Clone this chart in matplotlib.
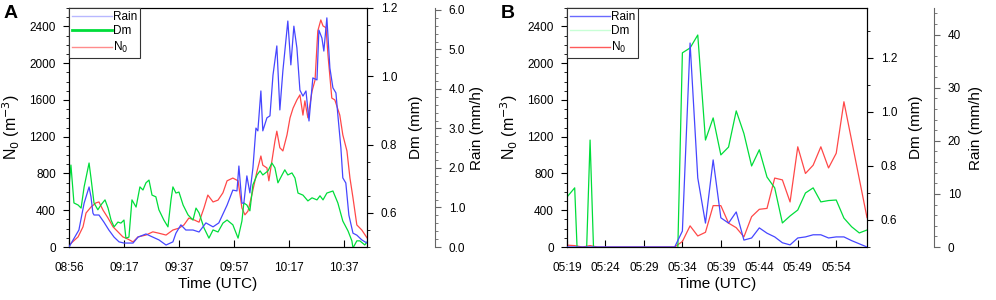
import matplotlib
matplotlib.use("Agg")
import matplotlib.pyplot as plt
from matplotlib.lines import Line2D
from matplotlib.ticker import MultipleLocator

plt.rcParams['font.family'] = ['Liberation Sans', 'DejaVu Sans']

# ---- Panel A: minutes after 08:56 ----
a_ticks = [0, 20, 40, 60, 80, 100]
a_ticklabels = ['08:56', '09:17', '09:37', '09:57', '10:17', '10:37']

rain_a_t = [0, 3.6, 5.5, 7.3, 8.0, 8.7, 9.1, 10.9, 12.7, 14.5, 16.4, 18.2, 20.0, 23.3, 25.1,
            28.0, 30.5, 32.7, 35.3, 37.8, 38.9, 40.7, 42.5, 45.1, 47.3, 49.8, 52.4, 54.5, 57.5,
            59.6, 61.1, 61.8, 62.9, 63.6, 64.7, 65.8, 66.9, 68.0, 68.7, 69.8, 70.5, 72.0, 73.1,
            74.2, 75.6, 76.7, 77.8, 79.6, 80.7, 81.8, 82.9, 84.0, 85.1, 86.2, 87.3, 88.7, 90.2,
            90.9, 92.0, 92.7, 93.8, 94.9, 96.0, 97.1, 97.8, 98.9, 99.6, 100.7, 101.8, 103.3,
            104.7, 106.5, 108.4]
rain_a = [0.0, 0.43, 1.11, 1.52, 1.27, 0.86, 0.81, 0.81, 0.63, 0.43, 0.25, 0.13, 0.10, 0.10, 0.25,
          0.33, 0.25, 0.18, 0.05, 0.13, 0.35, 0.56, 0.43, 0.43, 0.38, 0.61, 0.51, 0.61, 1.06,
          1.44, 1.42, 2.05, 1.11, 1.11, 1.80, 1.37, 2.00, 3.01, 2.94, 3.95, 2.94, 3.27, 3.32,
          4.35, 5.09, 3.47, 4.46, 5.72, 4.61, 5.59, 5.04, 3.97, 3.82, 3.95, 3.19, 4.28, 4.23,
          5.49, 5.29, 4.96, 5.80, 4.53, 4.03, 3.90, 3.34, 2.51, 1.75, 1.62, 0.81, 0.35,
          0.30, 0.18, 0.10]

n0_a_t = [0, 3.3, 5.1, 6.2, 8.0, 9.8, 10.9, 12.4, 14.2, 16.0, 17.8, 19.6, 21.5, 23.3, 25.1, 28.0,
          30.5, 32.7, 35.3, 37.8, 40.0, 41.8, 43.6, 45.5, 47.3, 49.1, 50.5, 52.4, 54.2, 56.0,
          57.5, 59.6, 61.5, 62.9, 64.0, 65.1, 66.5, 68.4, 69.8, 70.5, 72.0, 72.7, 73.8, 74.9,
          75.6, 76.7, 77.8, 79.3, 80.4, 81.5, 82.9, 84.0, 85.1, 85.8, 86.9, 88.4, 89.5, 90.5,
          91.6, 92.4, 93.5, 94.2, 95.6, 96.7, 98.5, 99.6, 101.1, 102.2, 103.3, 104.7, 106.5, 108.4]
n0_a = [20, 110, 220, 370, 435, 480, 490, 400, 315, 220, 165, 110, 85, 55, 110, 130,
        165, 150, 130, 185, 205, 240, 315, 295, 270, 425, 565, 490, 510, 590,
        720, 750, 720, 425, 350, 390, 565, 825, 990, 890, 860, 720, 935, 1150,
        1260, 1080, 1045, 1220, 1405, 1510, 1600, 1655, 1435, 1590, 1405, 1695, 1815, 2350,
        2470, 2405, 2385, 2090, 1620, 1600, 1435, 1220, 1045, 750, 535, 240, 185, 100]

dm_a_t = [0.0, 0.7, 1.8, 3.3, 4.4, 5.5, 7.3, 8.0, 9.1, 10.5, 11.6, 13.1, 14.2, 15.3, 16.4, 17.8,
          18.9, 20.0, 20.7, 21.8, 22.9, 24.4, 25.8, 26.9, 28.0, 29.1, 30.2, 31.6, 32.7, 34.5,
          36.0, 37.1, 37.8, 38.9, 40.0, 41.5, 43.3, 45.1, 46.2, 47.3, 49.1, 50.9, 52.4, 54.2,
          56.0, 57.5, 59.6, 61.5, 62.9, 63.6, 64.7, 65.8, 66.9, 68.4, 69.5, 70.5, 72.4, 73.8,
          74.9, 76.0, 77.5, 78.5, 79.6, 81.1, 82.2, 83.3, 85.1, 86.9, 88.4, 90.2, 91.3, 92.4,
          93.8, 96.0, 97.8, 99.6, 101.5, 102.9, 103.3, 104.7, 105.8, 107.6, 108.7]
dm_a = [0.676, 0.740, 0.629, 0.623, 0.614, 0.676, 0.746, 0.702, 0.629, 0.609, 0.623, 0.638, 0.614,
        0.579, 0.559, 0.573, 0.570, 0.579, 0.526, 0.529, 0.638, 0.617, 0.676, 0.667, 0.688, 0.696,
        0.652, 0.647, 0.609, 0.579, 0.559, 0.638, 0.676, 0.658, 0.661, 0.623, 0.594, 0.579, 0.614,
        0.600, 0.556, 0.526, 0.550, 0.544, 0.570, 0.579, 0.565, 0.526, 0.576, 0.629, 0.623, 0.606,
        0.682, 0.711, 0.723, 0.711, 0.723, 0.746, 0.732, 0.688, 0.711, 0.726, 0.711, 0.717, 0.702,
        0.658, 0.652, 0.635, 0.644, 0.638, 0.650, 0.638, 0.658, 0.664, 0.629, 0.576, 0.547, 0.518,
        0.497, 0.518, 0.518, 0.506, 0.518]

# ---- Panel B: one-minute samples from 05:19 ----
b_t = list(range(40))
b_ticks = [0, 5, 10, 15, 20, 25, 30, 35]
b_ticklabels = ['05:19', '05:24', '05:29', '05:34', '05:39', '05:44', '05:49', '05:54']
rain_b = [0, 0, 0, 0, 0, 0, 0, 0, 0, 0, 0, 0, 0, 0, 0,
          3.0, 38.4, 13.0, 4.5, 16.4, 5.5, 4.5, 6.6, 1.3, 1.7, 3.6, 2.6, 1.9, 0.8, 0.4,
          1.7, 1.9, 2.3, 2.3, 1.7, 1.9, 1.9, 1.2, 0.6, 0.0]
n0_b = [20, 15, 0, 15, 0, 0, 0, 0, 0, 0, 0, 0, 0, 0, 0,
        60, 230, 120, 160, 450, 450, 260, 210, 110, 330, 410, 420, 750, 730, 490,
        1090, 800, 890, 1090, 860, 1020, 1580, 1160, 740, 320]
dm_b = [0.685, 0.719, 0, 0.896, 0, 0, 0, 0, 0, 0, 0, 0, 0, 0, 0,
        1.219, 1.237, 1.285, 0.896, 0.978, 0.841, 0.870, 1.004, 0.92, 0.80, 0.86, 0.759, 0.719,
        0.589, 0.615, 0.637, 0.70, 0.719, 0.667, 0.672, 0.674, 0.607, 0.575, 0.552, 0.563]

BLUE, GREEN, RED = '#4646ff', '#00dd3a', '#ff4848'


def draw_panel(ax, xlim, ticks, ticklabels, dm_lim, dm_major, dm_minor, rain_lim, rain_major,
               rain_minor, rain_fmt, rain_pos, series, leg_colors, letter, letter_xy):
    (rt, rv), (dt, dv), (nt, nv) = series
    ax_dm = ax.twinx()
    ax_rn = ax.twinx()

    ax_rn.plot(rt, rv, color=BLUE, lw=0.9)
    ax.plot(nt, nv, color=RED, lw=0.9)
    ax_dm.plot(dt, dv, color=GREEN, lw=0.9)

    ax.set_xlim(*xlim)
    ax.set_ylim(0, 2600)
    ax_dm.set_ylim(*dm_lim)
    ax_rn.set_ylim(*rain_lim)

    ax.set_xticks(ticks)
    ax.set_xticklabels(ticklabels)
    ax.yaxis.set_major_locator(MultipleLocator(400))
    ax.yaxis.set_minor_locator(MultipleLocator(100))
    ax.tick_params(axis='x', direction='in', length=5, pad=11, labelsize=8.5, top=False)
    ax.tick_params(axis='y', which='both', direction='out', labelsize=8.5, pad=5, right=False)
    ax.tick_params(axis='y', which='major', length=4.5)
    ax.tick_params(axis='y', which='minor', length=2.5)

    ax_dm.yaxis.set_major_locator(MultipleLocator(dm_major))
    ax_dm.yaxis.set_minor_locator(MultipleLocator(dm_minor))
    ax_dm.tick_params(axis='y', which='both', direction='out', labelsize=8.5, pad=6)
    ax_dm.tick_params(axis='y', which='major', length=4)
    ax_dm.tick_params(axis='y', which='minor', length=2.5)
    ax_dm.yaxis.set_major_formatter(plt.FormatStrFormatter('%.1f'))

    ax_rn.spines['right'].set_position(('axes', rain_pos))
    for s in ['top', 'bottom', 'left']:
        ax_rn.spines[s].set_visible(False)
    ax_rn.spines['right'].set_color('#666666')
    ax_rn.yaxis.set_major_locator(MultipleLocator(rain_major))
    ax_rn.yaxis.set_minor_locator(MultipleLocator(rain_minor))
    ax_rn.yaxis.set_major_formatter(plt.FormatStrFormatter(rain_fmt))
    ax_rn.tick_params(axis='y', which='both', direction='out', labelsize=8.5, pad=6, color='#666666')
    ax_rn.tick_params(axis='y', which='major', length=4)
    ax_rn.tick_params(axis='y', which='minor', length=2.5)

    for a in (ax, ax_dm):
        for s in a.spines.values():
            s.set_linewidth(0.8)

    ax.set_xlabel('Time (UTC)', fontsize=11)
    ax.xaxis.set_label_coords(0.5, -0.125)
    ax.set_ylabel('N$_0$ (m$^{-3}$)', fontsize=11.5)
    ax.yaxis.set_label_coords(-0.158, 0.5)
    ax_dm.set_ylabel('Dm (mm)', fontsize=11)
    ax_dm.yaxis.set_label_coords(1.14, 0.5)
    ax_rn.set_ylabel('Rain (mm/h)', fontsize=11)
    ax_rn.yaxis.set_label_coords(rain_pos + 0.117, 0.5)

    handles = [Line2D([], [], color=leg_colors[0], lw=1),
               Line2D([], [], color=leg_colors[1], lw=2 if leg_colors[1] == GREEN else 1),
               Line2D([], [], color=leg_colors[2], lw=1)]
    leg = ax_rn.legend(handles, ['Rain', 'Dm', 'N$_0$'], loc='upper left', borderaxespad=0,
                       handlelength=3.4, handletextpad=0.05, fancybox=False, edgecolor='#333333',
                       framealpha=1, fontsize=8.5, labelspacing=0.2, borderpad=0.25)
    leg.get_frame().set_linewidth(0.8)

    fig.text(letter_xy[0], letter_xy[1], letter, ha='center', va='center',
             fontsize=14, fontweight='bold')


fig = plt.figure(figsize=(9.96, 3.0), dpi=100)
ax_a = fig.add_axes([69 / 996, 53 / 300, 298 / 996, 239 / 300])
ax_b = fig.add_axes([567 / 996, 53 / 300, 300 / 996, 239 / 300])

draw_panel(ax_a, (0, 108.4), a_ticks, a_ticklabels, (0.5, 1.2), 0.2, 0.05, (0, 6.05), 1.0, 0.2,
           '%.1f', 1.228, [(rain_a_t, rain_a), (dm_a_t, dm_a), (n0_a_t, n0_a)],
           ['#b8b8ff', GREEN, '#ff8c8c'], 'A', (11 / 996, 1 - 14 / 300))
draw_panel(ax_b, (0, 39), b_ticks, b_ticklabels, (0.5, 1.385), 0.2, 0.1, (0, 45), 10, 2,
           '%d', 1.223, [(b_t, rain_b), (b_t, dm_b), (b_t, n0_b)],
           ['#6a6aff', '#c8ffd6', '#ff5a5a'], 'B', (508 / 996, 1 - 13 / 300))

fig.savefig('out.png', dpi=100)
